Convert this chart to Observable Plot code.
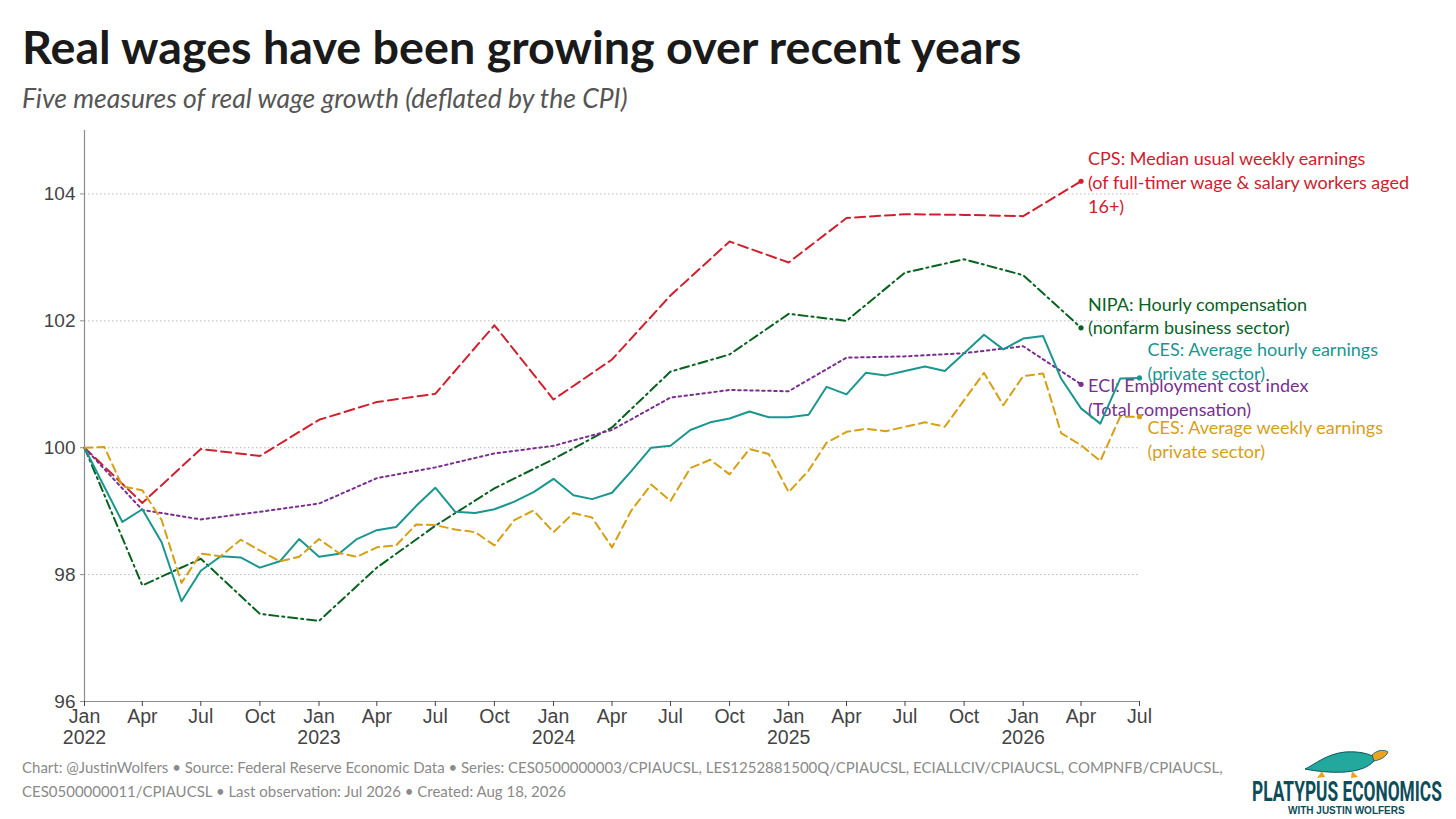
<!DOCTYPE html>
<html>
<head>
<meta charset="utf-8">
<script src="https://cdn.jsdelivr.net/npm/d3@7"></script>
<script src="https://cdn.jsdelivr.net/npm/@observablehq/plot@0.6"></script>
<style>
  html, body { margin: 0; padding: 0; background: #fff; }
  #page { position: relative; width: 1456px; height: 819px; overflow: hidden; background: #fff; }
  #chart { position: absolute; left: 0; top: 120px; }
  .abs { position: absolute; left: 0; top: 0; }
</style>
</head>
<body>
<div id="page">
  <svg class="abs" width="1456" height="120">
    <text x="22" y="64" font-family="Lato" font-weight="700" font-size="46.7" fill="#1a1a1a">Real wages have been growing over recent years</text>
    <text x="22" y="108" font-family="Lato" font-style="italic" font-size="26.5" fill="#555">Five measures of real wage growth (deflated by the CPI)</text>
  </svg>
  <div id="chart"></div>
  <svg class="abs" style="top:750px" width="1456" height="69">
    <text x="22" y="23" font-family="Lato" font-size="15" fill="#8a8a8a">Chart: @JustinWolfers • Source: Federal Reserve Economic Data • Series: CES0500000003/CPIAUCSL, LES1252881500Q/CPIAUCSL, ECIALLCIV/CPIAUCSL, COMPNFB/CPIAUCSL,</text>
    <text x="22" y="47" font-family="Lato" font-size="15" fill="#8a8a8a">CES0500000011/CPIAUCSL • Last observation: Jul 2026 • Created: Aug 18, 2026</text>
    <!-- logo -->
    <path d="M1305,19 C1314,15 1326,4 1345,2 C1360,1 1370,4 1376,8 C1372,16 1360,21 1345,22 C1330,23 1315,21 1305,19 Z" fill="#22a89c" stroke="#0d5560" stroke-width="1"/>
    <path d="M1372,5 C1377,0 1384,-1 1388,2 C1386,7 1380,10 1374,11 Z" fill="#e9a423" stroke="#0d5560" stroke-width="0.8"/>
    <path d="M1322,21 l-5,7 l8,-1 Z M1352,21 l-1,7 l7,-1 Z" fill="#e9a423"/>
    <text id="logoText" transform="translate(1252,51)" x="0" y="0" font-family="Roboto, sans-serif" font-weight="700" font-size="28" fill="#0d4d5a">PLATYPUS ECONOMICS</text>
    <text id="logoSub" x="1288" y="64" font-family="Liberation Sans, sans-serif" font-weight="700" font-size="10" fill="#0d4d5a">WITH JUSTIN WOLFERS</text>
  </svg>
</div>
<script>
// ---- data ----
const monthNames = ["Jan","Feb","Mar","Apr","May","Jun","Jul","Aug","Sep","Oct","Nov","Dec"];
const startYear = 2022;
// monthly series (Jan 2022 .. Jul 2026)
const cesHourly = [100, 99.38, 98.83, 99.03, 98.51, 97.58, 98.06, 98.29, 98.27, 98.11, 98.21, 98.56,
  98.28, 98.33, 98.56, 98.70, 98.75, 99.08, 99.37, 98.99, 98.97, 99.03, 99.15, 99.30,
  99.51, 99.25, 99.19, 99.29, 99.63, 100.00, 100.03, 100.28, 100.40, 100.46, 100.57, 100.48,
  100.48, 100.52, 100.96, 100.84, 101.18, 101.14, 101.21, 101.28, 101.21, 101.49, 101.78, 101.55,
  101.72, 101.76, 101.09, 100.62, 100.38, 101.09, 101.10];
const cesWeekly = [100, 100.01, 99.39, 99.33, 98.86, 97.87, 98.33, 98.29, 98.55, 98.38, 98.21, 98.28,
  98.56, 98.34, 98.28, 98.43, 98.46, 98.79, 98.78, 98.71, 98.67, 98.46, 98.86, 99.01,
  98.67, 98.97, 98.90, 98.43, 99.01, 99.42, 99.16, 99.68, 99.81, 99.58, 99.98, 99.90,
  99.30, 99.64, 100.08, 100.25, 100.30, 100.26, 100.33, 100.40, 100.33, 100.75, 101.18, 100.67,
  101.13, 101.17, 100.23, 100.04, 99.79, 100.49, 100.49];
// quarterly series (Jan 2022 .. Apr 2026, every 3 months)
const cpsMedian = [100, 99.13, 99.98, 99.87, 100.44, 100.72, 100.85, 101.93, 100.76, 101.39,
  102.40, 103.25, 102.92, 103.62, 103.68, 103.67, 103.65, 104.20];
const nipaHourly = [100, 97.83, 98.25, 97.38, 97.27, 98.11, 98.77, 99.36, 99.82, 100.32,
  101.20, 101.47, 102.11, 102.00, 102.76, 102.97, 102.72, 101.89];
const eciTotal = [100, 99.02, 98.87, 98.99, 99.12, 99.52, 99.69, 99.91, 100.03, 100.28,
  100.79, 100.91, 100.89, 101.42, 101.44, 101.49, 101.60, 101.00];

const yTicks = [96, 98, 100, 102, 104];
const yDomain = [96, 105];
const xTickMonths = d3.range(0, 55, 3); // month offsets for ticks

const seriesInfo = [
  {key: "cps", values: cpsMedian, step: 3, color: "#d0202e", dash: "10,5",
   label: "CPS: Median usual weekly earnings\n(of full-timer wage & salary workers aged\n16+)", dx: 7, dy: 0},
  {key: "nipa", values: nipaHourly, step: 3, color: "#07621f", dash: "9,4,2,4",
   label: "NIPA: Hourly compensation\n(nonfarm business sector)", dx: 7, dy: -13},
  {key: "eci", values: eciTotal, step: 3, color: "#7a2f8f", dash: "2.5,3.5",
   label: "ECI: Employment cost index\n(Total compensation)", dx: 7, dy: 12},
  {key: "hourly", values: cesHourly, step: 1, color: "#1a9690", dash: null,
   label: "CES: Average hourly earnings\n(private sector)", dx: 8, dy: -18},
  {key: "weekly", values: cesWeekly, step: 1, color: "#d79f12", dash: "8,5",
   label: "CES: Average weekly earnings\n(private sector)", dx: 8, dy: 22}
];

const monthDate = m => new Date(Date.UTC(startYear, m, 1));

const marks = [
  Plot.gridY(yTicks.slice(1), {stroke: "#b8b8b8", strokeOpacity: 1, strokeDasharray: "1.5,2.5", strokeWidth: 1}),
  Plot.ruleX([monthDate(0)], {stroke: "#8c8c8c", strokeWidth: 1.2}),
  Plot.ruleY([96], {stroke: "#8c8c8c", strokeWidth: 1.2}),
  Plot.axisY({ticks: yTicks, tickSize: 4, tickPadding: 5, fontSize: 19, stroke: "#8c8c8c", label: null}),
  Plot.axisX({ticks: xTickMonths.map(monthDate), tickSize: 5, tickPadding: 1, fontSize: 19.5, lineHeight: 1.1, label: null,
    tickFormat: d => monthNames[d.getUTCMonth()] + (d.getUTCMonth() === 0 ? "\n" + d.getUTCFullYear() : "")})
];

for (const s of seriesInfo) {
  const data = s.values.map((v, i) => ({date: monthDate(i * s.step), value: v}));
  const opts = {x: "date", y: "value", stroke: s.color, strokeWidth: 2};
  if (s.dash) opts.strokeDasharray = s.dash;
  marks.push(Plot.line(data, opts));
  const last = data[data.length - 1];
  marks.push(Plot.dot([last], {x: "date", y: "value", fill: s.color, r: 2.6}));
  marks.push(Plot.text([last], {x: "date", y: "value", text: () => s.label, fill: s.color,
    textAnchor: "start", lineAnchor: "middle", dx: s.dx, dy: s.dy, fontSize: 18, lineHeight: 1.33,
    fontFamily: "Lato"}));
}

const chart = Plot.plot({
  width: 1456,
  height: 641,
  marginLeft: 84,
  marginRight: 317,
  marginTop: 10,
  marginBottom: 60,
  style: {fontFamily: "Liberation Sans, Arial, sans-serif", color: "#444", background: "transparent", overflow: "visible"},
  x: {type: "utc", domain: [monthDate(0), monthDate(54)]},
  y: {domain: yDomain},
  marks
});
document.getElementById("chart").appendChild(chart);

// fit logo wordmark into its box (condensed look)
function fitText(id, x, y, w) {
  const t = document.getElementById(id);
  const natural = t.getComputedTextLength();
  if (natural > 0) t.setAttribute("transform", `translate(${x},${y}) scale(${w / natural},1)`);
}
fitText("logoText", 1252, 51, 190);
</script>
</body>
</html>
